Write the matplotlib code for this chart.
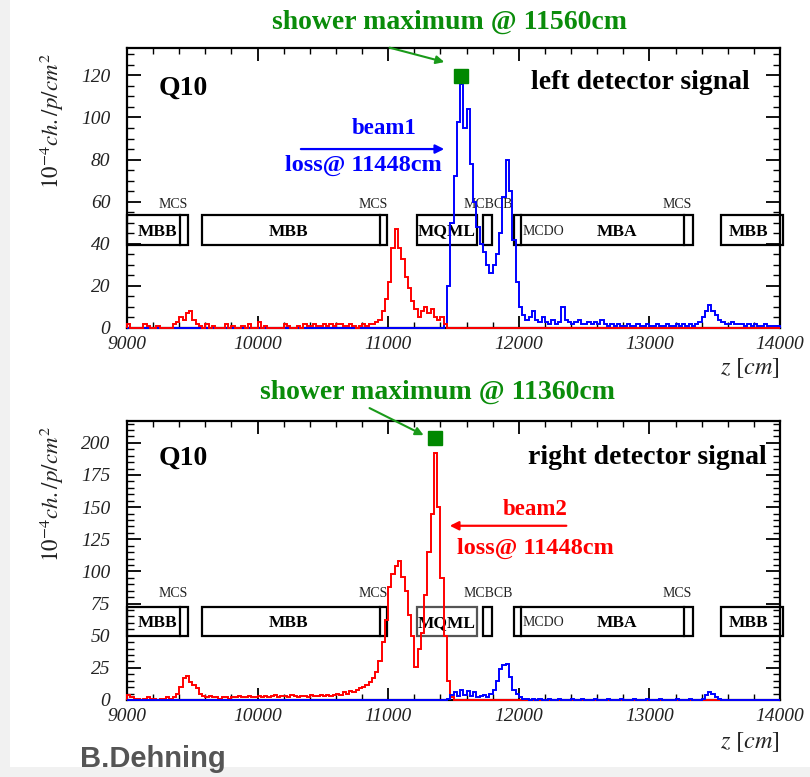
import numpy as np
import matplotlib
matplotlib.use('Agg')
import matplotlib.pyplot as plt
from matplotlib.patches import Rectangle
from matplotlib.ticker import MultipleLocator

plt.rcParams['font.family'] = ['Liberation Serif', 'DejaVu Serif']
plt.rcParams['mathtext.fontset'] = 'stix'

# ---------------- data ----------------
BIN = 25
Z_MIN, Z_MAX = 9000, 14000

# left detector (top panel), beam2 part (red), starting at 9000 cm
top_red = [2, 0, 0, 0, 0, 2, 1, 0, 0, 1,
           0, 0, 0, 0, 2, 3, 5, 4, 7, 8,
           4, 2, 1, 0, 2, 0, 1, 0, 0, 0,
           2, 0, 1, 0, 0, 1, 0, 2, 0, 0,
           3, 0, 1, 0, 0, 0, 0, 0, 2, 1,
           0, 0, 1, 0, 2, 1, 1, 2, 1, 1,
           2, 1, 2, 1, 2, 2, 1, 1, 2, 1,
           0, 1, 2, 1, 2, 2, 3, 4, 8, 14,
           22, 38, 47, 38, 33, 24, 19, 13, 9, 5,
           8, 10, 7, 9, 5, 4, 5, 2, 0, 0]
top_red_start = 9000
# left detector, beam1 part (blue), starting at 11425 cm
top_blue = [2, 20, 50, 72, 98, 116, 95, 104, 78, 60,
            48, 40, 36, 30, 26, 30, 35, 45, 62, 80,
            65, 42, 22, 10, 6, 4, 5, 8, 4, 3,
            5, 3, 2, 4, 2, 3, 10, 4, 3, 2,
            3, 4, 2, 2, 3, 2, 3, 2, 4, 2,
            1, 2, 1, 2, 1, 1, 2, 1, 1, 2,
            1, 1, 2, 1, 1, 2, 1, 1, 2, 1,
            1, 2, 1, 2, 1, 2, 1, 2, 3, 5,
            8, 11, 8, 6, 4, 3, 2, 2, 3, 2,
            2, 2, 1, 2, 1, 2, 1, 1, 2, 1,
            1, 1, 1]
top_blue_start = 11425

# right detector (bottom panel)
bot_red = [4, 2, 1, 1, 0, 1, 2, 1, 1, 0,
           1, 1, 2, 1, 2, 5, 10, 17, 19, 14,
           12, 9, 5, 3, 2, 3, 2, 2, 1, 2,
           2, 1, 2, 2, 3, 2, 2, 3, 2, 2,
           3, 2, 3, 2, 3, 4, 2, 3, 3, 2,
           4, 3, 2, 3, 3, 2, 4, 3, 3, 4,
           3, 4, 3, 4, 5, 4, 6, 5, 7, 6,
           8, 9, 10, 12, 14, 17, 22, 30, 45, 62,
           88, 98, 104, 108, 96, 85, 66, 50, 26, 40,
           52, 82, 115, 145, 192, 150, 95, 50, 15, 2]
bot_red_start = 9000
bot_blue = [0, 1, 4, 6, 3, 8, 4, 7, 3, 6,
            2, 3, 4, 2, 5, 8, 15, 24, 27, 28,
            18, 8, 5, 2, 1, 1, 0, 1, 0, 1,
            0, 0, 1, 0, 0, 1, 0, 0, 0, 1,
            0, 0, 1, 0, 0, 0, 1, 0, 0, 0,
            1, 0, 0, 0, 1, 0, 0, 0, 1, 0,
            0, 0, 1, 0, 0, 0, 1, 0, 0, 0,
            0, 1, 0, 0, 0, 1, 0, 0, 0, 1,
            4, 6, 5, 2, 1, 0, 0, 0, 0, 0,
            0, 0, 0, 0, 0, 0, 0, 0, 0, 0,
            0, 0, 0]
bot_blue_start = 11425

# shower maxima
shower_z = [11560, 11360]
shower_val = [119.5, 204]

# magnet layout (cm)
box_start = [9000, 9572, 11218, 11723, 11960, 13548]
box_end = [9465, 10993, 11677, 11792, 13330, 14020]
box_name = ['MBB', 'MBB', 'MQML', '', 'MBA', 'MBB']
box_name_z = [9230, 10240, 11225, None, 12750, 13760]
inner_lines = [9406, 10937, 12018, 13265]
small_names = ['MCS', 'MCS', 'MCBCB', 'MCDO', 'MCS']
small_name_z = [9350, 10885, 11765, 12185, 13213]


def full_hist(vals, start):
    n = int((Z_MAX - Z_MIN) / BIN)
    h = np.zeros(n)
    i0 = int((start - Z_MIN) / BIN)
    h[i0:i0 + len(vals)] = vals
    return h


edges = np.arange(Z_MIN, Z_MAX + 1, BIN)

fig = plt.figure(figsize=(8.1, 7.77), dpi=100)
fig.patch.set_facecolor('#f1f1f1')
fig.add_artist(Rectangle((10 / 810, 10 / 777), 1, 1, transform=fig.transFigure,
                         facecolor='white', edgecolor='none', zorder=0))

ax1 = fig.add_axes([0.1568, 0.5779, 0.8062, 0.3603])
ax2 = fig.add_axes([0.1568, 0.0991, 0.8062, 0.3591])

GREEN = '#0a8c0a'


def style_axis(ax, ymax, ymajor):
    ax.set_xlim(Z_MIN, Z_MAX)
    ax.set_ylim(0, ymax)
    ax.set_facecolor('none')
    for s in ax.spines.values():
        s.set_linewidth(1.6)
    ax.xaxis.set_major_locator(MultipleLocator(1000))
    ax.xaxis.set_minor_locator(MultipleLocator(200))
    ax.yaxis.set_major_locator(MultipleLocator(ymajor))
    ax.yaxis.set_minor_locator(MultipleLocator(5))
    ax.tick_params(axis='x', which='major', direction='in', length=9, width=1.3,
                   top=True, bottom=True, pad=6, labelsize=14)
    ax.tick_params(axis='x', which='minor', direction='in', length=4.5, width=1.0,
                   top=True, bottom=True)
    ax.tick_params(axis='y', which='major', direction='in', length=10, width=1.3,
                   left=True, right=True, pad=12, labelsize=14)
    ax.tick_params(axis='y', which='minor', direction='in', length=5, width=1.0,
                   left=True, right=True)
    for lab in ax.get_xticklabels() + ax.get_yticklabels():
        lab.set_fontstyle('italic')
        lab.set_color('#222222')


def draw_magnets(ax, y0, y1, ylab_small, ylab_big, mqml_color):
    for i, (a, b) in enumerate(zip(box_start, box_end)):
        col = mqml_color if box_name[i] == 'MQML' else 'black'
        ax.add_patch(Rectangle((a, y0), b - a, y1 - y0, fill=False, edgecolor=col,
                               linewidth=1.6, clip_on=False, zorder=2))
        if box_name[i]:
            ax.text(box_name_z[i], ylab_big, box_name[i], fontsize=12.5, fontweight='bold',
                    ha='left' if box_name[i] == 'MQML' else 'center', va='center', zorder=2)
    for zl in inner_lines:
        ax.plot([zl, zl], [y0, y1], color='black', lw=1.6, zorder=2)
    for nm, zn in zip(small_names, small_name_z):
        yy = ylab_big if nm == 'MCDO' else ylab_small
        ax.text(zn, yy, nm, fontsize=10, ha='center', va='center', color='#222222', zorder=2)


# ---------------- top panel ----------------
style_axis(ax1, 133, 20)
draw_magnets(ax1, 39.4, 53.6, 58.8, 45.8, 'black')
ax1.stairs(full_hist(top_blue, top_blue_start), edges, color='#0000ff', lw=1.4,
           clip_on=False, zorder=4)
ax1.stairs(full_hist(top_red, top_red_start), edges, color='#ff0000', lw=1.4,
           clip_on=False, zorder=5)
ax1.plot(shower_z[0], shower_val[0], 's', color='#008800', ms=10, zorder=6, clip_on=False)
ax1.annotate('', xy=(11450, 126), xytext=(10990, 133.5), annotation_clip=False,
             arrowprops=dict(arrowstyle='-|>', color='#1a9a1a', lw=1.5, mutation_scale=12))
ax1.annotate('', xy=(11450, 85), xytext=(10310, 85),
             arrowprops=dict(arrowstyle='-|>', color='#0000ff', lw=1.6, mutation_scale=13))
ax1.text(10965, 94.7, 'beam1', color='#0000ff', fontsize=16.5, fontweight='bold',
         ha='center', va='center')
ax1.text(10807, 77.3, 'loss@ 11448cm', color='#0000ff', fontsize=17.5, fontweight='bold',
         ha='center', va='center')
ax1.text(9245, 114, 'Q10', fontsize=20, fontweight='bold', ha='left', va='center')
ax1.text(13770, 116.7, 'left detector signal', fontsize=20, fontweight='bold',
         ha='right', va='center')

# ---------------- bottom panel ----------------
style_axis(ax2, 217, 25)
draw_magnets(ax2, 50, 72.6, 82.5, 60, '#555555')
ax2.stairs(full_hist(bot_red, bot_red_start), edges, color='#ff0000', lw=1.4,
           clip_on=False, zorder=4)
ax2.stairs(full_hist(bot_blue, bot_blue_start), edges, color='#0000ff', lw=1.4,
           clip_on=False, zorder=5)
ax2.plot(shower_z[1], shower_val[1], 's', color='#008800', ms=10, zorder=6, clip_on=False)
ax2.annotate('', xy=(11290, 205), xytext=(10838, 228), annotation_clip=False,
             arrowprops=dict(arrowstyle='-|>', color='#1a9a1a', lw=1.5, mutation_scale=12))
ax2.annotate('', xy=(11450, 135.5), xytext=(12385, 135.5),
             arrowprops=dict(arrowstyle='-|>', color='#ff0000', lw=1.6, mutation_scale=13))
ax2.text(12128, 148, 'beam2', color='#ff0000', fontsize=16.5, fontweight='bold',
         ha='center', va='center')
ax2.text(12125, 118, 'loss@ 11448cm', color='#ff0000', fontsize=17.5, fontweight='bold',
         ha='center', va='center')
ax2.text(9242, 188.3, 'Q10', fontsize=20, fontweight='bold', ha='left', va='center')
ax2.text(13900, 188.3, 'right detector signal', fontsize=20, fontweight='bold',
         ha='right', va='center')

# ---------------- labels ----------------
for ax in (ax1, ax2):
    ax.text(-0.115, 0.98, r'$10^{-4}ch./p/cm^{2}$', transform=ax.transAxes,
            rotation=90, ha='center', va='top', fontsize=16.5, color='#222222')
fig.text(780 / 810, 1 - 368 / 777, r'$z\ [cm]$', ha='right', va='center', fontsize=17.5,
         color='#222222')
fig.text(780 / 810, 1 - 742 / 777, r'$z\ [cm]$', ha='right', va='center', fontsize=17.5,
         color='#222222')

fig.text(450 / 810, 1 - 22 / 777, 'shower maximum @ 11560cm', color=GREEN, fontsize=20,
         fontweight='bold', ha='center', va='center')
fig.text(437 / 810, 1 - 392 / 777, 'shower maximum @ 11360cm', color=GREEN, fontsize=20,
         fontweight='bold', ha='center', va='center')

fig.text(80 / 810, 1 - 759 / 777, 'B.Dehning', color='#555555', fontsize=21,
         fontweight='bold', family=['Liberation Sans', 'DejaVu Sans'], ha='left', va='center')

fig.savefig('out.png', dpi=100, facecolor=fig.get_facecolor())
